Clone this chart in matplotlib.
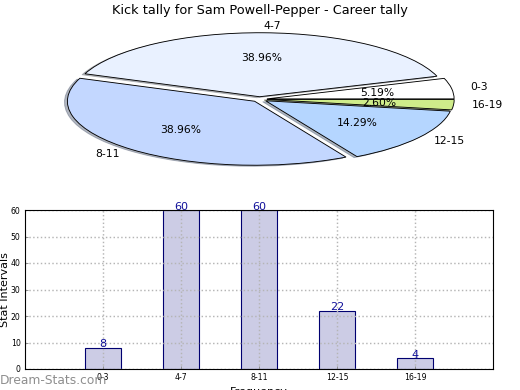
import matplotlib
matplotlib.use("Agg")
from matplotlib import pyplot as plt

# Kick tally data
categories = ["0-3", "4-7", "8-11", "12-15", "16-19"]
counts = [8, 60, 60, 22, 4]
positions = [0, 1, 2, 3, 4]
y_ticks = [0, 10, 20, 30, 40, 50, 60]
pie_colors = ["#FFFFFF", "#E9F1FF", "#C3D7FF", "#B5D6FF", "#CFEC8A"]
pie_explode = [0.04, 0.04, 0.04, 0.04, 0.04]

fig = plt.figure(figsize=(6.5, 4.875), dpi=80)

# Top: squashed pie
ax1 = fig.add_axes([25.5 / 520, 1 - 179.3 / 390, 468 / 520, 160 / 390])
wedges, labels, pcts = ax1.pie(counts, labels=categories, colors=pie_colors, explode=pie_explode,
                               autopct="%.2f%%", startangle=0,
                               shadow={"shade": 0.5, "ox": -0.014, "oy": -0.014},
                               wedgeprops={"edgecolor": "black", "linewidth": 0.8},
                               textprops={"fontsize": 9.7})
ax1.set_aspect("auto")
ax1.set_xlim(-1.25, 1.25)
ax1.set_ylim(-1.25, 1.25)
ax1.set_title("Kick tally for Sam Powell-Pepper - Career tally", fontsize=11.6, pad=5)

# Bottom: bars
ax2 = fig.add_axes([25 / 520, 1 - 369 / 390, 468 / 520, 159 / 390])
ax2.bar(positions, counts, width=0.46, color="#CCCCE5", edgecolor="#000070", linewidth=1.0, zorder=2)
ax2.set_xlim(-1, 5)
ax2.set_ylim(0, 60)
ax2.set_xticks(positions)
ax2.set_xticklabels(categories)
ax2.set_yticks(y_ticks)
ax2.tick_params(axis="both", labelsize=7, direction="in", length=3, color="#888888", pad=4)
ax2.grid(True, linestyle=":", color="#B5B5B5", linewidth=1.3, zorder=3)
ax2.set_axisbelow(False)
ax2.set_ylabel("Stat Intervals", fontsize=10)
ax2.yaxis.set_label_coords(-15 / 468, 0.5)
ax2.set_xlabel("Frequency", fontsize=10, labelpad=4)
for s in ax2.spines.values():
    s.set_linewidth(1.0)
    s.set_zorder(6)

for x, c in zip(positions, counts):
    ax2.text(x, c - 0.6, str(c), ha="center", va="bottom", color="#10109A", fontsize=10, zorder=5)

fig.text(0 / 520, 1 - 381 / 390, "Dream-Stats.com", color="#8E8E8E", fontsize=11,
         va="center", ha="left", zorder=10)

fig.savefig("out.png", dpi=80)
